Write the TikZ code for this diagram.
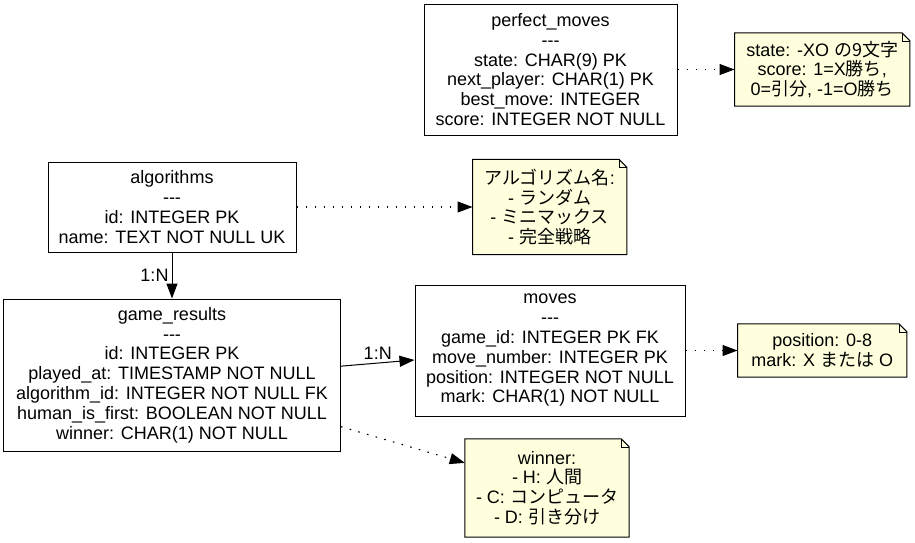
\documentclass[tikz,border=0pt]{standalone}
\usepackage{fontspec}
\setmainfont{Liberation Sans}[Ligatures=TeXOff]
\newfontfamily\cjk{Noto Sans CJK JP}
\usetikzlibrary{arrows.meta, positioning, backgrounds}
\definecolor{memofill}{HTML}{FFFFDD}

\begin{document}
\begin{tikzpicture}[
        x=1pt, y=-1pt,
        font=\fontsize{18}{19.8}\selectfont,
        tbl/.style={rectangle, draw, line width=1pt, inner sep=0pt, align=center},
        memo/.style={rectangle, inner sep=0pt, align=center},
        rel/.style={-{Triangle[length=15pt,width=11pt]}, line width=1pt},
        cmt/.style={-{Triangle[length=15pt,width=11pt]}, line width=1.1pt,
                    dash pattern=on 1.6pt off 7.4pt}
    ]
    \useasboundingbox (0,0) rectangle (915,542);

    % Tables
    \node[tbl, minimum width=253pt, minimum height=131pt] (pm) at (550.5,69.5)
        {perfect\_moves\\---\\state: CHAR(9) PK\\next\_player: CHAR(1) PK\\best\_move: INTEGER\\score: INTEGER NOT NULL};
    \node[tbl, minimum width=248pt, minimum height=90pt] (al) at (172,207)
        {algorithms\\---\\id: INTEGER PK\\name: TEXT NOT NULL UK};
    \node[tbl, minimum width=337pt, minimum height=152pt, below=46pt of al] (gr)
        {game\_results\\---\\id: INTEGER PK\\played\_at: TIMESTAMP NOT NULL\\algorithm\_id: INTEGER NOT NULL FK\\human\_is\_first: BOOLEAN NOT NULL\\winner: CHAR(1) NOT NULL};
    \node[tbl, minimum width=270pt, minimum height=131pt] (mv) at (550,350.5)
        {moves\\---\\game\_id: INTEGER PK FK\\move\_number: INTEGER PK\\position: INTEGER NOT NULL\\mark: CHAR(1) NOT NULL};

    % Notes
    \node[memo, minimum width=175pt, minimum height=73pt, right=57pt of pm] (st)
        {state: -XO {\cjk の9文字}\\score: 1=X{\cjk 勝ち},\\0={\cjk 引分}, -1=O{\cjk 勝ち}};
    \node[memo, minimum width=154pt, minimum height=95pt, right=176pt of al] (an)
        {{\cjk アルゴリズム名}:\\- {\cjk ランダム}\\- {\cjk ミニマックス}\\- {\cjk 完全戦略}};
    \node[memo, minimum width=169pt, minimum height=53pt, right=52pt of mv] (ps)
        {position: 0-8\\mark: X {\cjk または} O};
    \node[memo, minimum width=164pt, minimum height=98pt] (wn) at (547,488)
        {winner:\\- H: {\cjk 人間}\\- C: {\cjk コンピュータ}\\- D: {\cjk 引き分け}};

    \begin{scope}[on background layer]
    \foreach \m in {st,an,ps,wn}
        \filldraw[fill=memofill, line width=1pt] (\m.north west) -- ([xshift=-8pt]\m.north east)
            -- ([yshift=-8pt]\m.north east) -- (\m.south east) -- (\m.south west) -- cycle;
    \end{scope}
    \foreach \m in {st,an,ps,wn}
        \draw[line width=0.6pt] ([xshift=-8pt]\m.north east) -- ([xshift=-8pt,yshift=-8pt]\m.north east)
            -- ([yshift=-8pt]\m.north east);

    % Connections
    \draw[rel] (al.south) -- (gr.north) node[midway, left, inner sep=3pt] {1:N};
    \draw[rel] (gr.3) -- (mv.184) node[midway, above, inner sep=3pt] {1:N};
    \draw[cmt] (pm.east) -- (st.west);
    \draw[cmt] (al.east) -- (an.west);
    \draw[cmt] (mv.east) -- (ps.west);
    \draw[cmt] (gr.-17) -- (wn.163);
\end{tikzpicture}
\end{document}
